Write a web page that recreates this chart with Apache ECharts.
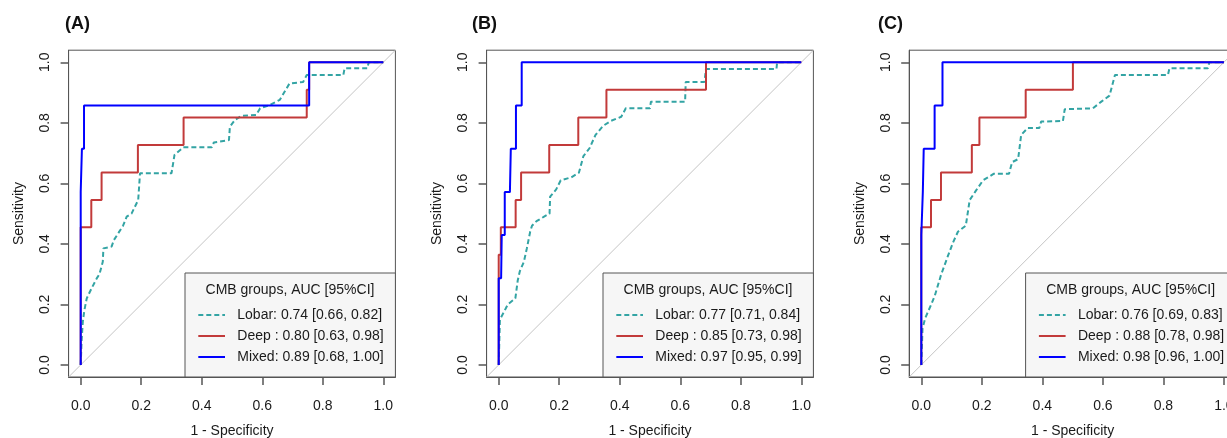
<!DOCTYPE html>
<html lang="en">
<head>
<meta charset="UTF-8">
<title>ROC curves by CMB group</title>
<style>
  html, body { margin: 0; padding: 0; background: #fff; }
  #main { width: 1227px; height: 438px; }
</style>
</head>
<body>
<div id="main"></div>
<script src="https://cdn.jsdelivr.net/npm/echarts@6/dist/echarts.min.js"></script>
<script type="text/javascript">
// tick values on both axes
var ticks = [0, 0.2, 0.4, 0.6, 0.8, 1.0];
var panelTags = ['(A)', '(B)', '(C)'];
var legendTitle = 'CMB groups, AUC [95%CI]';

// legend text per panel: Lobar, Deep, Mixed
var aucA = ['Lobar: 0.74 [0.66, 0.82]', 'Deep : 0.80 [0.63, 0.98]', 'Mixed: 0.89 [0.68, 1.00]'];
var aucB = ['Lobar: 0.77 [0.71, 0.84]', 'Deep : 0.85 [0.73, 0.98]', 'Mixed: 0.97 [0.95, 0.99]'];
var aucC = ['Lobar: 0.76 [0.69, 0.83]', 'Deep : 0.88 [0.78, 0.98]', 'Mixed: 0.98 [0.96, 1.00]'];

// reference line y = x across the whole plot box
var diagonal = [[-0.04, -0.04], [1.04, 1.04]];

// ROC points, [1 - specificity, sensitivity]
var lobarA = [[0, 0], [0.003, 0.08], [0.007, 0.143], [0.012, 0.18], [0.02, 0.22], [0.036, 0.253],
  [0.053, 0.286], [0.062, 0.30], [0.073, 0.341], [0.075, 0.385], [0.102, 0.391], [0.11, 0.413],
  [0.124, 0.435], [0.14, 0.46], [0.152, 0.49], [0.168, 0.50], [0.19, 0.545], [0.196, 0.545],
  [0.196, 0.633], [0.30, 0.633], [0.31, 0.694], [0.339, 0.719], [0.433, 0.719], [0.44, 0.735],
  [0.49, 0.743], [0.493, 0.787], [0.51, 0.81], [0.532, 0.823], [0.58, 0.826], [0.593, 0.848],
  [0.625, 0.859], [0.658, 0.876], [0.69, 0.93], [0.735, 0.935], [0.747, 0.958], [0.868, 0.958],
  [0.872, 0.98], [0.947, 0.98], [0.952, 1], [1, 1]];
var deepA = [[0, 0], [0, 0.455], [0.035, 0.455], [0.035, 0.545], [0.069, 0.545], [0.069, 0.636],
  [0.189, 0.636], [0.189, 0.727], [0.340, 0.727], [0.340, 0.818], [0.747, 0.818], [0.747, 0.909],
  [0.755, 0.909], [0.755, 1], [1, 1]];
var mixedA = [[0, 0], [0, 0.571], [0.004, 0.571], [0.004, 0.714], [0.011, 0.714], [0.011, 0.857],
  [0.755, 0.857], [0.755, 1], [1, 1]];

var lobarB = [[0, 0], [0.004, 0.15], [0.02, 0.18], [0.03, 0.2], [0.055, 0.22], [0.063, 0.28],
  [0.07, 0.31], [0.083, 0.34], [0.093, 0.385], [0.104, 0.44], [0.11, 0.46], [0.125, 0.475],
  [0.15, 0.49], [0.168, 0.50], [0.17, 0.556], [0.19, 0.58], [0.205, 0.61], [0.24, 0.62],
  [0.265, 0.635], [0.28, 0.69], [0.30, 0.716], [0.32, 0.76], [0.345, 0.79], [0.37, 0.806],
  [0.405, 0.82], [0.42, 0.848], [0.50, 0.848], [0.503, 0.87], [0.616, 0.87], [0.618, 0.935],
  [0.68, 0.935], [0.685, 0.978], [0.918, 0.978], [0.92, 1], [1, 1]];
var deepB = [[0, 0], [0, 0.364], [0.007, 0.364], [0.007, 0.455], [0.056, 0.455], [0.056, 0.545],
  [0.074, 0.545], [0.074, 0.636], [0.167, 0.636], [0.167, 0.727], [0.263, 0.727], [0.263, 0.818],
  [0.356, 0.818], [0.356, 0.909], [0.685, 0.909], [0.685, 1], [1, 1]];
var mixedB = [[0, 0], [0, 0.286], [0.008, 0.286], [0.01, 0.429], [0.02, 0.429], [0.02, 0.571],
  [0.037, 0.571], [0.04, 0.714], [0.057, 0.714], [0.057, 0.857], [0.076, 0.857], [0.076, 1], [1, 1]];

var lobarC = [[0, 0], [0.004, 0.12], [0.013, 0.155], [0.033, 0.2], [0.045, 0.23], [0.066, 0.30],
  [0.088, 0.36], [0.105, 0.405], [0.121, 0.44], [0.147, 0.46], [0.16, 0.545], [0.18, 0.575],
  [0.204, 0.61], [0.24, 0.632], [0.29, 0.632], [0.30, 0.67], [0.32, 0.68], [0.33, 0.76],
  [0.352, 0.783], [0.39, 0.783], [0.396, 0.804], [0.468, 0.806], [0.474, 0.845], [0.567, 0.848],
  [0.595, 0.87], [0.622, 0.89], [0.64, 0.958], [0.815, 0.958], [0.82, 0.98], [0.947, 0.98],
  [0.952, 1], [1, 1]];
var deepC = [[0, 0], [0, 0.455], [0.032, 0.455], [0.032, 0.545], [0.065, 0.545], [0.065, 0.636],
  [0.167, 0.636], [0.167, 0.727], [0.192, 0.727], [0.192, 0.818], [0.345, 0.818], [0.345, 0.909],
  [0.501, 0.909], [0.501, 1], [1, 1]];
var mixedC = [[0, 0], [0, 0.429], [0.005, 0.429], [0.005, 0.571], [0.008, 0.571], [0.008, 0.714],
  [0.044, 0.714], [0.044, 0.857], [0.07, 0.857], [0.07, 1], [1, 1]];

var panels = [
  {tag: panelTags[0], names: aucA, curves: [lobarA, deepA, mixedA]},
  {tag: panelTags[1], names: aucB, curves: [lobarB, deepB, mixedB]},
  {tag: panelTags[2], names: aucC, curves: [lobarC, deepC, mixedC]}
];

// layout (px)
var gridLeft = [68.6, 486.6, 909.2];
var tagLeft = [65, 472, 878];
var gridTop = 50.2, gridSize = 326.8;
var colors = ['#33a4a4', '#c23a3a', '#0000ff'];
var dashes = [[5, 3], 'solid', 'solid'];
var font = '"Liberation Sans", Arial, Helvetica, sans-serif';
var textColor = '#1a1a1a';

var option = {
  animation: false,
  title: [], grid: [], xAxis: [], yAxis: [], series: [], graphic: []
};

panels.forEach(function (p, i) {
  option.title.push({
    text: p.tag, left: tagLeft[i], top: 15, padding: 0,
    textStyle: {fontFamily: font, fontSize: 18, fontWeight: 'bold', color: '#111'}
  });
  // outerBoundsMode none: keep the box where it is, labels may sit near the edge
  option.grid.push({
    left: gridLeft[i], top: gridTop, width: gridSize, height: gridSize,
    outerBoundsMode: 'none', containLabel: false,
    show: true, borderColor: '#555', borderWidth: 1, backgroundColor: 'transparent'
  });
  var axisCommon = {
    type: 'value', min: -0.04, max: 1.04, gridIndex: i,
    nameLocation: 'middle',
    nameTextStyle: {fontFamily: font, fontSize: 14, color: textColor},
    axisLine: {show: true, onZero: false, lineStyle: {color: '#555', width: 1}},
    splitLine: {show: false},
    axisTick: {show: true, inside: false, length: 8, customValues: ticks,
      lineStyle: {color: '#555', width: 1.5}},
    axisLabel: {customValues: ticks, fontFamily: font, fontSize: 14, color: textColor,
      formatter: function (v) { return v.toFixed(1); }}
  };
  option.xAxis.push(echarts.util.merge({
    name: '1 - Specificity', nameGap: 47, axisLabel: {margin: 22}
  }, echarts.util.clone(axisCommon), true));
  option.yAxis.push(echarts.util.merge({
    name: 'Sensitivity', nameGap: 42, axisLabel: {margin: 16, rotate: 90}
  }, echarts.util.clone(axisCommon), true));

  option.series.push({
    type: 'line', xAxisIndex: i, yAxisIndex: i, data: diagonal, symbol: 'none', silent: true,
    lineStyle: {color: '#c4c4c4', width: 1}
  });
  p.curves.forEach(function (c, k) {
    option.series.push({
      type: 'line', name: p.names[k], xAxisIndex: i, yAxisIndex: i, data: c, symbol: 'none',
      lineStyle: {color: colors[k], width: 2, type: dashes[k]}
    });
  });

  // legend box drawn inside the bottom-right corner of the plot box
  var lx = gridLeft[i] + 116.4, ly = 273;
  var rows = [315, 336, 357];
  option.graphic.push({
    type: 'rect', z: 100,
    shape: {x: lx, y: ly, width: gridSize - 116.4, height: gridTop + gridSize - ly},
    style: {fill: '#f6f6f6', stroke: '#555', lineWidth: 1}
  });
  option.graphic.push({
    type: 'text', z: 101,
    style: {text: legendTitle, x: lx + 105, y: 290, align: 'center', verticalAlign: 'middle',
      font: '14px ' + font, fill: textColor}
  });
  rows.forEach(function (ry, k) {
    option.graphic.push({
      type: 'line', z: 101,
      shape: {x1: lx + 13.3, y1: ry, x2: lx + 40, y2: ry},
      style: {stroke: colors[k], lineWidth: 2, lineDash: k === 0 ? [5, 3] : null}
    });
    option.graphic.push({
      type: 'text', z: 101,
      style: {text: p.names[k], x: lx + 52.3, y: ry, align: 'left', verticalAlign: 'middle',
        font: '14px ' + font, fill: textColor}
    });
  });
});

var myChart = echarts.init(document.getElementById('main'));
myChart.setOption(option);
</script>
</body>
</html>
